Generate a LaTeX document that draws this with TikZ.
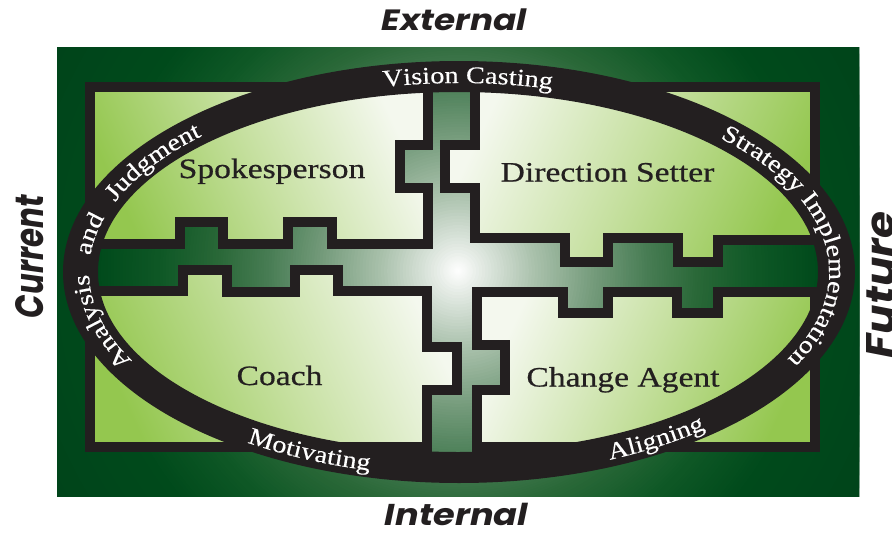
\documentclass[tikz,border=0pt]{standalone}
\usepackage{fontspec}
\usepackage{graphicx}
\usetikzlibrary{decorations.text}
\setmainfont{Liberation Serif}
\newfontfamily\serifwide[FakeStretch=1.18,FakeBold=0.3]{Liberation Serif}
\newfontfamily\labwide[FakeStretch=1.2,FakeBold=0.6]{Liberation Serif}
\newfontfamily\axisfont{Poppins}
\definecolor{inkblack}{HTML}{231F20}
\definecolor{bgA}{HTML}{EEF2EE}
\definecolor{bgB}{HTML}{ABC2AD}
\definecolor{bgC}{HTML}{739A7A}
\definecolor{bgD}{HTML}{477C53}
\definecolor{bgE}{HTML}{2A6838}
\definecolor{bgF}{HTML}{0F5826}
\definecolor{bgG}{HTML}{004A1B}
\definecolor{bgH}{HTML}{00431A}
\definecolor{pwhite}{HTML}{F4F8EE}
\definecolor{pmid}{HTML}{C6E0A0}
\definecolor{pgreen}{HTML}{94C74F}
\newcommand\ringtxt{\serifwide\fontsize{24}{24}\selectfont}
\newcommand\roletxt{\labwide\fontsize{28}{28}\selectfont}
\newcommand\axistxt{\axisfont\bfseries\itshape}
\tikzset{
  piece/.style={draw=inkblack, line width=10pt, line join=miter, miter limit=10},
  leftpiece/.style={piece, top color=pwhite, bottom color=pgreen, middle color=pmid, shading angle=-65},
  rightpiece/.style={piece, top color=pwhite, bottom color=pgreen, middle color=pmid, shading angle=65},
  ringlabel/.style={decorate, decoration={text along path, text color=white, text align=left}},
  role/.style={anchor=base, inner sep=0pt, text=inkblack},
  axislabel/.style={anchor=base, inner sep=0pt, text=inkblack}
}
\begin{document}
\begin{tikzpicture}[x=1pt,y=-1pt]
\useasboundingbox (0,0) rectangle (892,533);
% background glow (concentric discs)
\begin{scope}
  \clip (57,47) rectangle (859,496);
  \foreach \ra/\rb/\ca/\cb in {480/360/bgH/bgG, 360/298/bgG/bgF, 298/240/bgF/bgE, 240/192/bgE/bgD,
      192/139/bgD/bgC, 139/77/bgC/bgB, 77/15/bgB/bgA, 15/0/bgA/white}{
    \foreach \k in {0,...,19}{
      \pgfmathsetmacro\rr{\ra-(\ra-\rb)*\k/20}
      \pgfmathtruncatemacro\pp{5*\k}
      \fill[\cb!\pp!\ca] (458,271) circle[radius=\rr];
    }
  }
\end{scope}
% four puzzle pieces
\path[leftpiece] (90,87) -- (428,87) -- (428,145) -- (400,145) -- (400,188) -- (428,188) -- (428,244)
  -- (332,244) -- (332,222) -- (288,222) -- (288,244) -- (223,244) -- (223,222) -- (180,222) -- (180,244)
  -- (90,244) -- cycle;
\path[rightpiece] (475,87) -- (815,87) -- (815,240) -- (718,240) -- (718,262) -- (678,262) -- (678,238)
  -- (608,238) -- (608,262) -- (565,262) -- (565,238) -- (475,238) -- (475,188) -- (445,188)
  -- (445,145) -- (475,145) -- cycle;
\path[leftpiece] (90,291) -- (183,291) -- (183,270) -- (227,270) -- (227,292) -- (295,292) -- (295,270)
  -- (338,270) -- (338,291) -- (427,291) -- (427,347) -- (457,347) -- (457,390) -- (427,390)
  -- (427,447) -- (90,447) -- cycle;
\path[rightpiece] (477,292) -- (563,292) -- (563,313) -- (608,313) -- (608,292) -- (677,292) -- (677,313)
  -- (718,313) -- (718,292) -- (815,292) -- (815,447) -- (477,447) -- (477,390) -- (505,390)
  -- (505,345) -- (477,345) -- cycle;
% ring
\fill[inkblack, even odd rule] (459,272) ellipse[x radius=396, y radius=211]
  (458,272) ellipse[x radius=360, y radius=180];
% ring texts
\begin{scope}[shift={(459,272)}]
  \path[ringlabel, decoration={text={|\ringtxt|Vision Casting}}]
    (258.2:370 and 189) arc[start angle=258.2, end angle=305, x radius=370, y radius=189];
  \path[ringlabel, decoration={text={|\ringtxt|Strategy Implementation}}]
    (314.9:370 and 189) arc[start angle=314.9, end angle=400, x radius=370, y radius=189];
  \path[ringlabel, decoration={text={|\ringtxt|Analysis and Judgment}, text align=fit to path stretching spaces}]
    (152:370 and 189) arc[start angle=152, end angle=226, x radius=370, y radius=189];
  \path[ringlabel, decoration={text={|\ringtxt|Motivating}}]
    (123.3:386 and 204) arc[start angle=123.3, end angle=60, x radius=386, y radius=204];
  \path[ringlabel, decoration={text={|\ringtxt|Aligning}}]
    (67:386 and 204) arc[start angle=67, end angle=10, x radius=386, y radius=204];
\end{scope}
% role labels
\node[role] (spokes) at (272,178) {\roletxt Spokesperson};
\node[role] (direction) at (607.5,181.5) {\roletxt Direction Setter};
\node[role] (coach) at (279.5,385) {\roletxt Coach};
\node[role] (change) at (623,386.5) {\roletxt Change Agent};
% axis labels
\node[axislabel] (external) at (454.2,30) {\resizebox{145pt}{21.7pt}{\axistxt External}};
\node[axislabel] (internal) at (456.5,525) {\resizebox{143pt}{22.3pt}{\axistxt Internal}};
\node[axislabel, rotate=90] (current) at (43,256.5) {\resizebox{123pt}{28pt}{\axistxt Current}};
\node[axislabel, rotate=90] (future) at (894.7,285) {\resizebox{146pt}{28pt}{\axistxt Future}};
\end{tikzpicture}
\end{document}
